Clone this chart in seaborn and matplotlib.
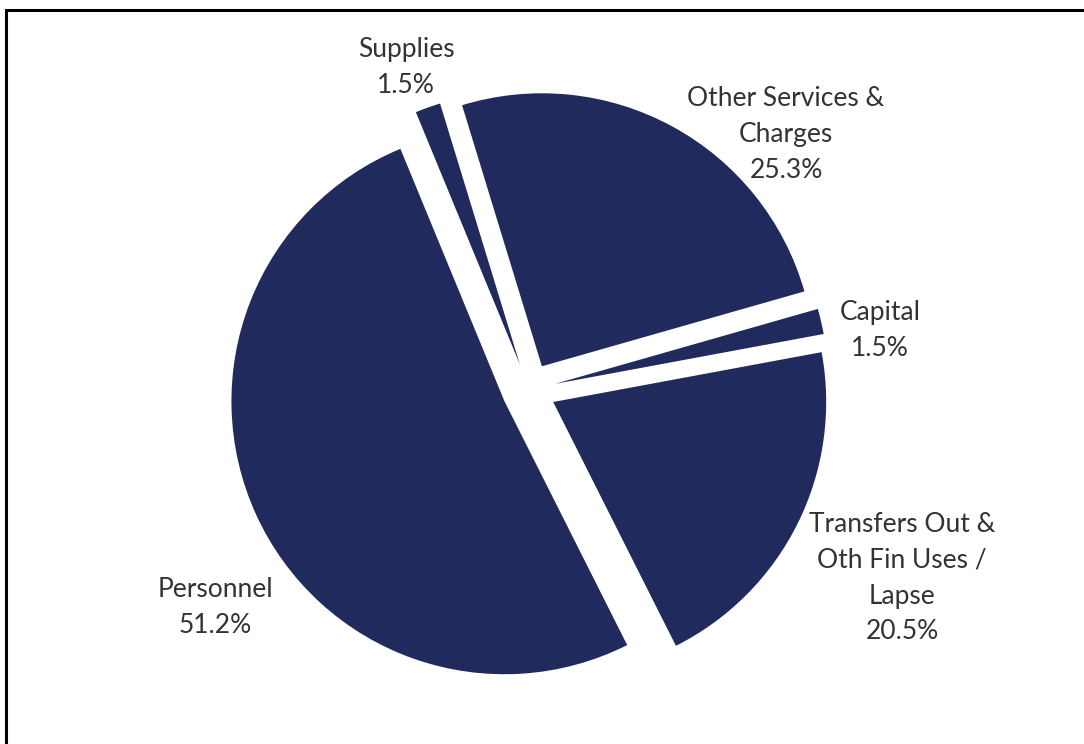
import matplotlib
matplotlib.use("Agg")
import matplotlib.pyplot as plt
from matplotlib.patches import Rectangle
import seaborn as sns

# ---- data ----
categories = ["Other Services &\nCharges", "Capital", "Transfers Out &\nOth Fin Uses /\nLapse", "Personnel", "Supplies"]
shares = [25.3, 1.5, 20.5, 51.2, 1.5]
pct_labels = ["25.3%", "1.5%", "20.5%", "51.2%", "1.5%"]

# ---- layout ----
W, H = 1084, 744
label_pos = [(786, 86), (880, 300), (902, 512), (215, 577), (406, 37)]  # top-of-text pixel positions
explode_px = [27, 27, 27, 27, 27]
navy = "#202A5C"
text_color = "#333333"

sns.set_theme(style="white")
plt.rcParams["font.family"] = ["Lato", "DejaVu Sans"]

fig = plt.figure(figsize=(W / 100, H / 100), dpi=100)
ax = fig.add_axes([0, 0, 1, 1])

ax.pie(shares, colors=[navy] * len(shares), startangle=107, counterclock=False,
       explode=explode_px, center=(529, H - 390), radius=273, frame=True,
       wedgeprops=dict(linewidth=0))
ax.set_xlim(0, W)
ax.set_ylim(0, H)
ax.set_aspect("equal")
ax.axis("off")

for cat, pct, (x, y) in zip(categories, pct_labels, label_pos):
    ax.text(x, H - y, cat + "\n" + pct, ha="center", va="top", fontsize=19,
            color=text_color, linespacing=1.54)

fig.patches.append(Rectangle((6 / W, -0.05), 1.2, (H - 10) / H + 0.05, transform=fig.transFigure,
                             fill=False, edgecolor="black", linewidth=2.2))

fig.savefig("out.png", dpi=100, facecolor="white")
